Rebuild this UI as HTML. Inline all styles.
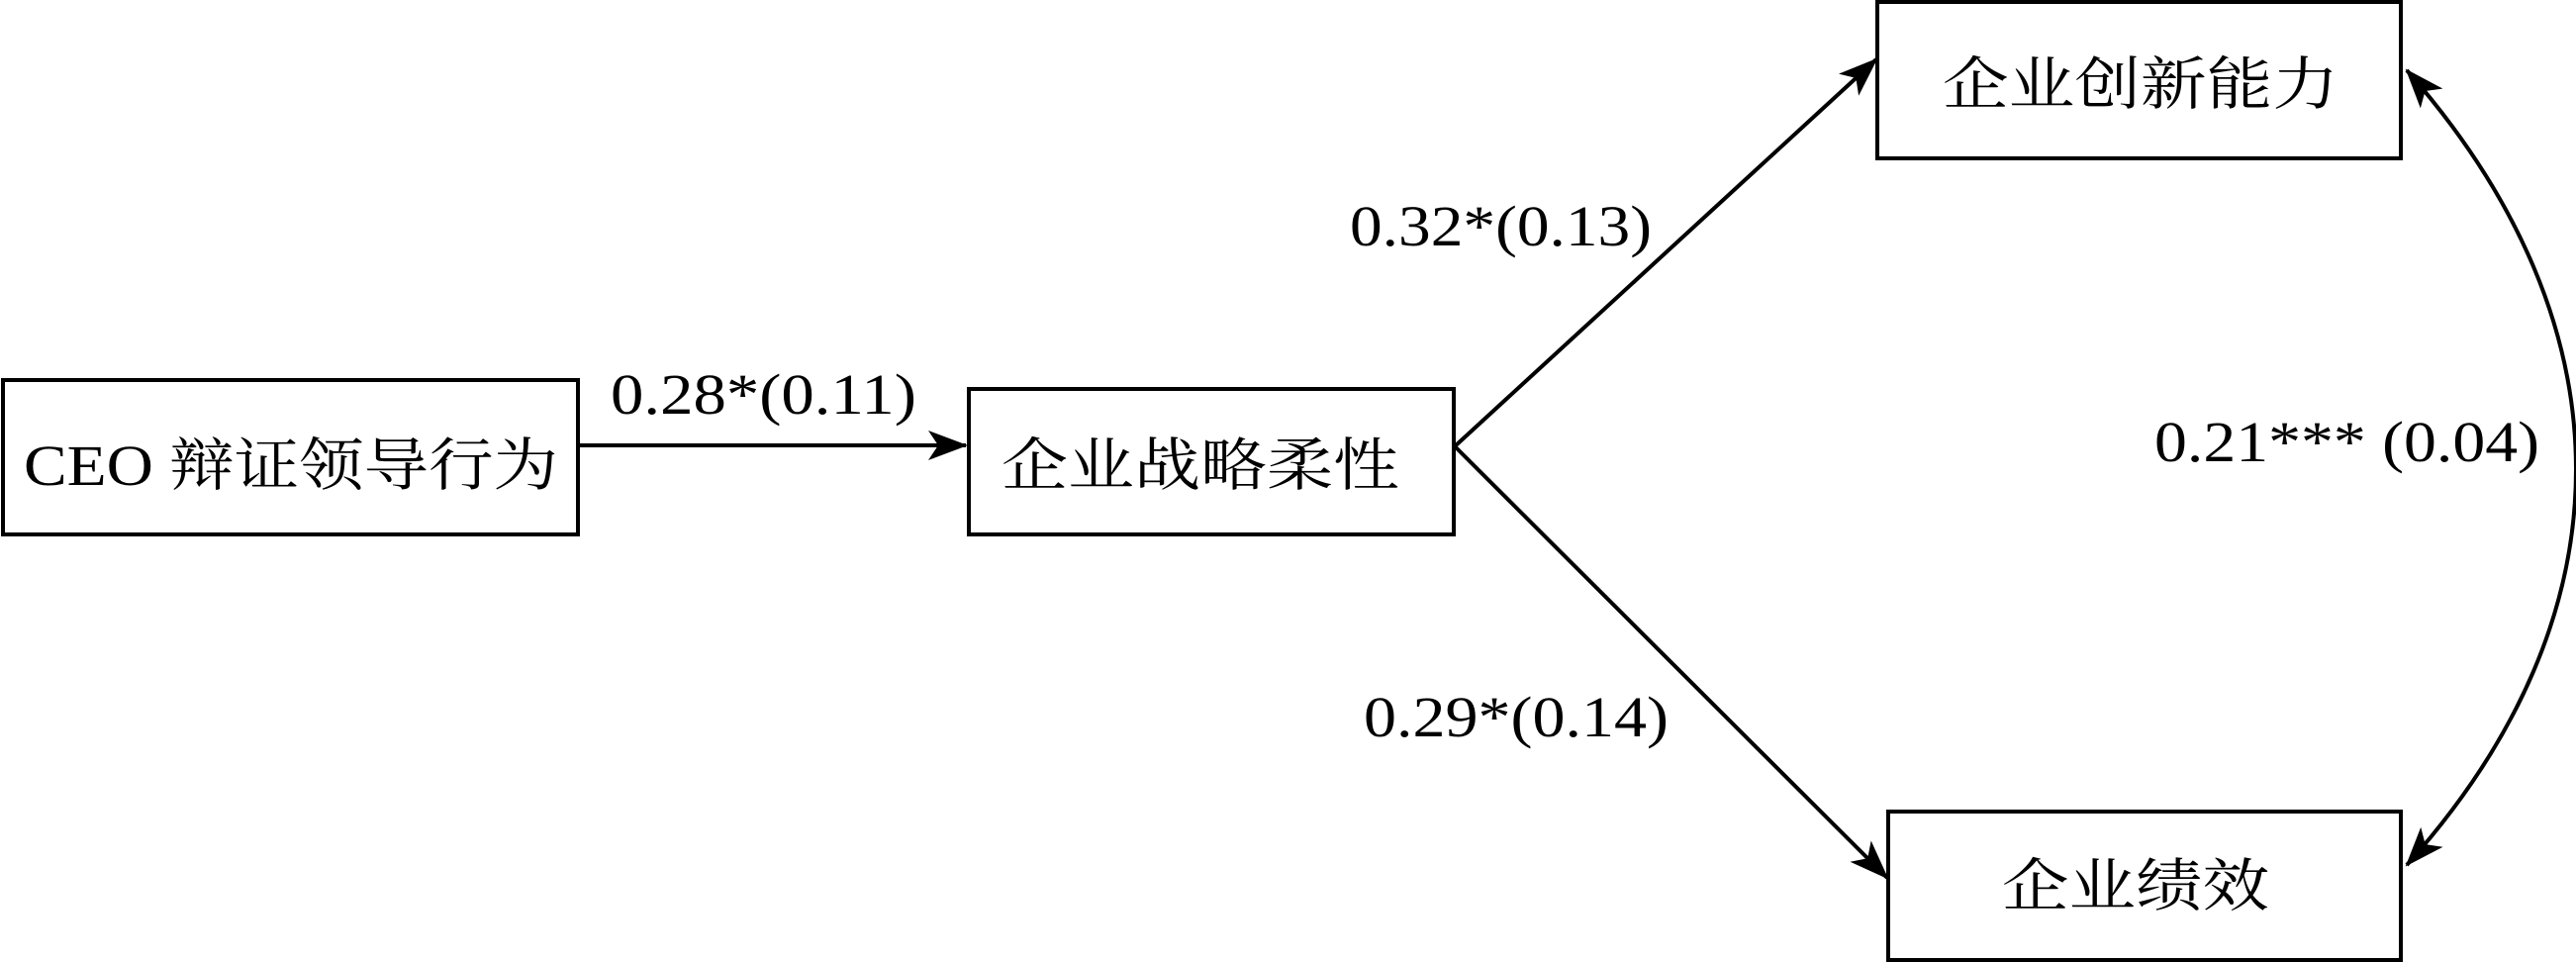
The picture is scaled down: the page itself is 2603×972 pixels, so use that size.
<!DOCTYPE html>
<html><head><meta charset="utf-8"><style>html,body{margin:0;padding:0;background:#fff}svg{display:block}</style></head>
<body>
<svg width="2603" height="972" viewBox="0 0 2603 972" xmlns="http://www.w3.org/2000/svg">
<defs>
<marker id="ah" viewBox="0 0 40 30" refX="38" refY="15" markerWidth="40" markerHeight="30" markerUnits="userSpaceOnUse" orient="auto-start-reverse">
<path d="M0,0 L40,15 L0,30 L10,15 Z" fill="#000"/>
</marker>
</defs>
<g fill="none" stroke="#000" stroke-width="4">
<rect x="3" y="384" width="581" height="156"/>
<rect x="979" y="393" width="490" height="147"/>
<rect x="1897" y="2" width="529" height="158"/>
<rect x="1908" y="820" width="518" height="150"/>
<line x1="584" y1="450" x2="976" y2="450" marker-end="url(#ah)"/>
<line x1="1470" y1="451" x2="1896" y2="60" marker-end="url(#ah)"/>
<line x1="1470" y1="451" x2="1907" y2="887" marker-end="url(#ah)"/>
<path d="M2432,71 C2660,330 2660,620 2432,874" marker-start="url(#ah)" marker-end="url(#ah)"/>
</g>
<g font-family="Liberation Serif, 'Noto Serif CJK SC', serif" font-size="58" fill="#000">
<text x="24" y="490" textLength="540" lengthAdjust="spacingAndGlyphs">CEO 辩证领导行为</text>
<text x="1012" y="490" textLength="402" lengthAdjust="spacingAndGlyphs">企业战略柔性</text>
<text x="1963" y="105" textLength="400" lengthAdjust="spacingAndGlyphs">企业创新能力</text>
<text x="2023" y="915" textLength="270" lengthAdjust="spacingAndGlyphs">企业绩效</text>
<text x="617" y="418" textLength="309" lengthAdjust="spacingAndGlyphs">0.28*(0.11)</text>
<text x="1364" y="248" textLength="305" lengthAdjust="spacingAndGlyphs">0.32*(0.13)</text>
<text x="1378" y="744" textLength="308" lengthAdjust="spacingAndGlyphs">0.29*(0.14)</text>
<text x="2177" y="466" textLength="389" lengthAdjust="spacingAndGlyphs">0.21*** (0.04)</text>
</g>
</svg>
</body></html>
